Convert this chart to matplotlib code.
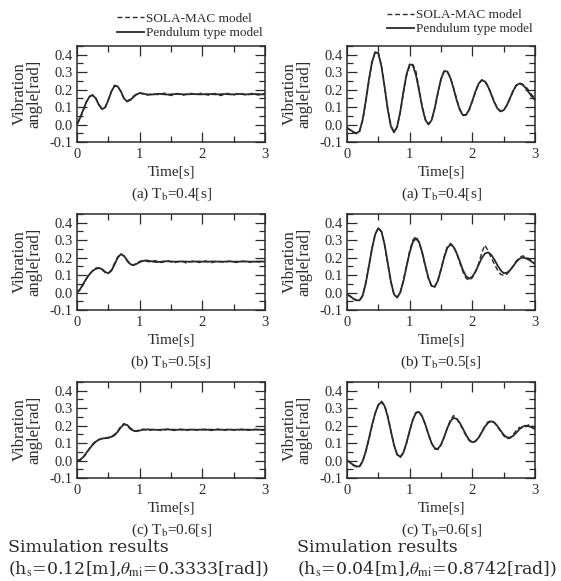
import matplotlib
matplotlib.use("Agg")
import matplotlib.pyplot as plt
from matplotlib.ticker import MultipleLocator, FormatStrFormatter

plt.rcParams['font.family'] = ['Liberation Serif', 'DejaVu Serif']
plt.rcParams['mathtext.fontset'] = 'stix'
plt.rcParams['axes.unicode_minus'] = False

# sample times [s], every 0.05 s
time_s = [0.00, 0.05, 0.10, 0.15, 0.20, 0.25, 0.30, 0.35, 0.40, 0.45,
          0.50, 0.55, 0.60, 0.65, 0.70, 0.75, 0.80, 0.85, 0.90, 0.95,
          1.00, 1.05, 1.10, 1.15, 1.20, 1.25, 1.30, 1.35, 1.40, 1.45,
          1.50, 1.55, 1.60, 1.65, 1.70, 1.75, 1.80, 1.85, 1.90, 1.95,
          2.00, 2.05, 2.10, 2.15, 2.20, 2.25, 2.30, 2.35, 2.40, 2.45,
          2.50, 2.55, 2.60, 2.65, 2.70, 2.75, 2.80, 2.85, 2.90, 2.95,
          3.00]

# ---- left column: h_s=0.12 m, theta_mi=0.3333 rad ----
left_a_pend = [0.0, 0.04, 0.085, 0.13, 0.16, 0.168, 0.15, 0.112, 0.088, 0.098,
               0.14, 0.19, 0.222, 0.218, 0.19, 0.15, 0.132, 0.14, 0.158, 0.172,
               0.18, 0.178, 0.174, 0.171, 0.172, 0.174, 0.176, 0.175, 0.173, 0.172,
               0.173, 0.174, 0.175, 0.174, 0.173, 0.173, 0.174, 0.175, 0.174, 0.173,
               0.173, 0.174, 0.175, 0.174, 0.173, 0.173, 0.174, 0.175, 0.174, 0.173,
               0.173, 0.174, 0.175, 0.174, 0.173, 0.173, 0.174, 0.175, 0.174, 0.173,
               0.173]
left_a_sola = [0.0, 0.035, 0.08, 0.128, 0.162, 0.17, 0.152, 0.115, 0.09, 0.1,
               0.142, 0.192, 0.225, 0.22, 0.188, 0.148, 0.135, 0.145, 0.162, 0.175,
               0.182, 0.176, 0.168, 0.172, 0.178, 0.174, 0.17, 0.176, 0.18, 0.172,
               0.166, 0.172, 0.178, 0.174, 0.168, 0.175, 0.181, 0.174, 0.17, 0.176,
               0.18, 0.172, 0.168, 0.175, 0.178, 0.17, 0.166, 0.174, 0.179, 0.172,
               0.169, 0.176, 0.18, 0.173, 0.168, 0.174, 0.179, 0.172, 0.169, 0.175,
               0.178]
left_b_pend = [0.0, 0.02, 0.05, 0.08, 0.105, 0.124, 0.136, 0.14, 0.134, 0.118,
               0.11, 0.125, 0.162, 0.2, 0.22, 0.21, 0.185, 0.163, 0.157, 0.164,
               0.174, 0.181, 0.184, 0.182, 0.178, 0.175, 0.175, 0.177, 0.179, 0.179,
               0.178, 0.177, 0.177, 0.178, 0.178, 0.177, 0.177, 0.177, 0.178, 0.178,
               0.177, 0.177, 0.177, 0.178, 0.178, 0.177, 0.177, 0.177, 0.178, 0.178,
               0.177, 0.177, 0.177, 0.178, 0.178, 0.177, 0.177, 0.177, 0.178, 0.178,
               0.177]
left_b_sola = [0.0, 0.015, 0.045, 0.078, 0.105, 0.126, 0.14, 0.142, 0.13, 0.115,
               0.112, 0.13, 0.168, 0.205, 0.222, 0.208, 0.18, 0.16, 0.158, 0.168,
               0.178, 0.184, 0.18, 0.176, 0.18, 0.183, 0.177, 0.172, 0.178, 0.182,
               0.176, 0.17, 0.176, 0.181, 0.176, 0.168, 0.175, 0.18, 0.177, 0.172,
               0.178, 0.181, 0.175, 0.171, 0.177, 0.18, 0.176, 0.172, 0.178, 0.18,
               0.175, 0.172, 0.178, 0.18, 0.175, 0.173, 0.178, 0.179, 0.175, 0.174,
               0.177]
left_c_pend = [0.0, 0.005, 0.02, 0.045, 0.068, 0.09, 0.108, 0.12, 0.126, 0.128,
               0.132, 0.136, 0.145, 0.165, 0.19, 0.207, 0.204, 0.186, 0.171, 0.168,
               0.172, 0.176, 0.178, 0.178, 0.177, 0.176, 0.176, 0.177, 0.178, 0.178,
               0.177, 0.177, 0.176, 0.177, 0.177, 0.176, 0.177, 0.177, 0.176, 0.177,
               0.177, 0.176, 0.177, 0.177, 0.176, 0.177, 0.177, 0.176, 0.177, 0.177,
               0.176, 0.177, 0.177, 0.176, 0.177, 0.177, 0.176, 0.177, 0.177, 0.176,
               0.177]
left_c_sola = [-0.005, 0.0, 0.018, 0.04, 0.07, 0.095, 0.112, 0.12, 0.125, 0.13,
               0.128, 0.138, 0.15, 0.17, 0.195, 0.212, 0.2, 0.18, 0.168, 0.17,
               0.176, 0.18, 0.176, 0.172, 0.177, 0.18, 0.176, 0.171, 0.176, 0.181,
               0.177, 0.172, 0.177, 0.18, 0.175, 0.172, 0.178, 0.18, 0.175, 0.173,
               0.178, 0.18, 0.175, 0.172, 0.177, 0.18, 0.176, 0.173, 0.178, 0.179,
               0.175, 0.173, 0.178, 0.18, 0.176, 0.173, 0.177, 0.179, 0.176, 0.174,
               0.177]

# ---- right column: h_s=0.04 m, theta_mi=0.8742 rad ----
right_a_pend = [-0.02, -0.03, -0.042, -0.05, -0.038, 0.028, 0.136, 0.258, 0.36, 0.415,
                0.407, 0.333, 0.214, 0.087, -0.01, -0.045, -0.013, 0.074, 0.187, 0.288,
                0.345, 0.34, 0.284, 0.195, 0.099, 0.027, 0.0, 0.025, 0.094, 0.182,
                0.261, 0.306, 0.304, 0.267, 0.207, 0.14, 0.084, 0.053, 0.055, 0.086,
                0.136, 0.19, 0.234, 0.254, 0.247, 0.218, 0.174, 0.128, 0.092, 0.075,
                0.082, 0.11, 0.151, 0.192, 0.224, 0.235, 0.228, 0.21, 0.185, 0.16,
                0.14]
right_a_sola = [-0.015, -0.032, -0.048, -0.052, -0.04, 0.025, 0.13, 0.252, 0.356, 0.418,
                0.41, 0.338, 0.22, 0.092, -0.005, -0.042, -0.015, 0.07, 0.18, 0.28,
                0.335, 0.345, 0.305, 0.205, 0.105, 0.032, 0.004, 0.022, 0.09, 0.178,
                0.258, 0.305, 0.306, 0.27, 0.21, 0.145, 0.088, 0.056, 0.056, 0.085,
                0.132, 0.186, 0.232, 0.256, 0.25, 0.222, 0.178, 0.132, 0.095, 0.078,
                0.083, 0.108, 0.148, 0.19, 0.224, 0.238, 0.232, 0.218, 0.196, 0.17,
                0.15]
right_b_pend = [-0.01, -0.02, -0.035, -0.043, -0.045, -0.019, 0.053, 0.152, 0.253, 0.333,
                0.369, 0.35, 0.276, 0.17, 0.064, -0.01, -0.029, 0.0, 0.065, 0.149,
                0.23, 0.289, 0.31, 0.288, 0.231, 0.154, 0.083, 0.038, 0.033, 0.068,
                0.131, 0.201, 0.255, 0.275, 0.262, 0.226, 0.178, 0.129, 0.093, 0.08,
                0.091, 0.12, 0.159, 0.197, 0.223, 0.23, 0.217, 0.19, 0.157, 0.128,
                0.111, 0.113, 0.127, 0.15, 0.175, 0.193, 0.2, 0.197, 0.188, 0.176,
                0.163]
right_b_sola = [-0.012, -0.022, -0.038, -0.046, -0.044, -0.015, 0.058, 0.158, 0.258, 0.336,
                0.37, 0.348, 0.272, 0.165, 0.06, -0.012, -0.028, 0.004, 0.07, 0.155,
                0.238, 0.3, 0.322, 0.29, 0.225, 0.148, 0.078, 0.035, 0.032, 0.07,
                0.135, 0.205, 0.262, 0.282, 0.265, 0.224, 0.17, 0.118, 0.082, 0.07,
                0.085, 0.118, 0.165, 0.228, 0.272, 0.24, 0.2, 0.165, 0.13, 0.105,
                0.098, 0.105, 0.125, 0.152, 0.18, 0.2, 0.21, 0.205, 0.195, 0.18,
                0.165]
right_c_pend = [0.0, -0.012, -0.025, -0.033, -0.034, -0.003, 0.053, 0.126, 0.204, 0.272,
                0.318, 0.335, 0.313, 0.252, 0.169, 0.089, 0.035, 0.021, 0.046, 0.102,
                0.171, 0.234, 0.273, 0.278, 0.252, 0.206, 0.15, 0.10, 0.07, 0.067,
                0.091, 0.135, 0.185, 0.225, 0.244, 0.239, 0.216, 0.182, 0.147, 0.118,
                0.105, 0.111, 0.131, 0.162, 0.193, 0.216, 0.225, 0.218, 0.198, 0.172,
                0.148, 0.133, 0.131, 0.141, 0.159, 0.179, 0.194, 0.2, 0.197, 0.19,
                0.18]
right_c_sola = [0.005, -0.01, -0.028, -0.036, -0.035, -0.005, 0.05, 0.122, 0.2, 0.27,
                0.32, 0.34, 0.318, 0.255, 0.17, 0.088, 0.032, 0.018, 0.043, 0.1,
                0.168, 0.232, 0.275, 0.282, 0.255, 0.208, 0.15, 0.098, 0.066, 0.063,
                0.088, 0.133, 0.186, 0.232, 0.258, 0.24, 0.212, 0.178, 0.142, 0.114,
                0.102, 0.11, 0.13, 0.163, 0.196, 0.222, 0.228, 0.218, 0.195, 0.168,
                0.142, 0.125, 0.128, 0.148, 0.172, 0.19, 0.185, 0.195, 0.205, 0.198,
                0.19]

captions = ['(a) T$_\\mathrm{b}$=0.4[s]', '(b) T$_\\mathrm{b}$=0.5[s]', '(c) T$_\\mathrm{b}$=0.6[s]']
footers = [('Simulation results', '(h$_\\mathrm{s}$=0.12[m],$\\theta_\\mathrm{mi}$=0.3333[rad])'),
           ('Simulation results', '(h$_\\mathrm{s}$=0.04[m],$\\theta_\\mathrm{mi}$=0.8742[rad])')]

panels = [
    [(left_a_sola, left_a_pend), (right_a_sola, right_a_pend)],
    [(left_b_sola, left_b_pend), (right_b_sola, right_b_pend)],
    [(left_c_sola, left_c_pend), (right_c_sola, right_c_pend)],
]

INK = '#2a2a2a'
W, H = 561, 581
col_left = [77, 347]
col_width = 188
row_top = [46, 214, 382]
row_height = 96

fig = plt.figure(figsize=(W / 100, H / 100), dpi=100)

for r in range(3):
    for c in range(2):
        ax = fig.add_axes([col_left[c] / W, 1 - (row_top[r] + row_height) / H,
                           col_width / W, row_height / H])
        sola, pend = panels[r][c]
        l_sola, = ax.plot(time_s, sola, color=INK, lw=1.0, ls=(0, (3.5, 2)))
        l_pend, = ax.plot(time_s, pend, color=INK, lw=1.3)

        ax.set_xlim(0, 3)
        ax.set_ylim(-0.1, 0.45)
        ax.xaxis.set_major_locator(MultipleLocator(1))
        ax.xaxis.set_minor_locator(MultipleLocator(0.5))
        ax.yaxis.set_major_locator(MultipleLocator(0.1))
        ax.yaxis.set_minor_locator(MultipleLocator(0.05))
        ax.yaxis.set_major_formatter(FormatStrFormatter('%.1f'))
        ax.tick_params(which='both', direction='in', top=True, right=True,
                       color=INK, width=0.9, labelsize=10.5, labelcolor=INK)
        ax.tick_params(which='major', length=7)
        ax.tick_params(which='minor', length=4)
        ax.tick_params(axis='y', pad=3)
        ax.tick_params(axis='x', pad=4)
        for s in ax.spines.values():
            s.set_color(INK)
            s.set_linewidth(1.1)

        ax.set_xlabel('Time[s]', fontsize=11, color=INK)
        ax.xaxis.set_label_coords(0.5, -0.24)
        ax.text(-0.265, 0.5, 'Vibration\nangle[rad]', rotation=90, ha='center',
                va='center', fontsize=12, linespacing=0.9, color=INK,
                transform=ax.transAxes)
        ax.text(0.5, -0.55, captions[r], ha='center', va='center', fontsize=11,
                color=INK, transform=ax.transAxes)

        if r == 0:
            anchor_y = 1.07 if c == 0 else 1.11
            ax.legend([l_sola, l_pend], ['SOLA-MAC model', 'Pendulum type model'],
                      loc='lower left', bbox_to_anchor=(0.215, anchor_y),
                      frameon=False, borderpad=0, borderaxespad=0,
                      handlelength=2.0, handletextpad=0.15, labelspacing=0.15,
                      fontsize=9.5, labelcolor=INK)

for c in range(2):
    x0 = 8 if c == 0 else 297
    fig.text(x0 / W, 1 - 548 / H, footers[c][0], ha='left', va='center',
             fontsize=12.5, family='DejaVu Serif', color=INK)
    fig.text(x0 / W, 1 - 569 / H, footers[c][1], ha='left', va='center',
             fontsize=12.5, family='DejaVu Serif', color=INK)

fig.savefig('out.png', dpi=100, facecolor='white')
